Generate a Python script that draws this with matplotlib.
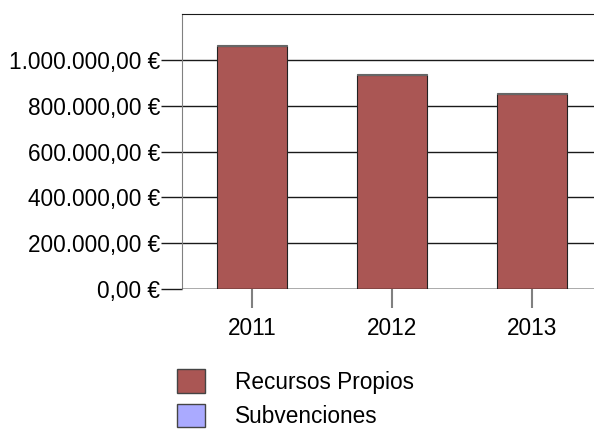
import matplotlib
matplotlib.use("Agg")
import matplotlib.pyplot as plt
from matplotlib.ticker import FuncFormatter
import numpy as np

plt.rcParams['font.family'] = ['Liberation Sans', 'DejaVu Sans']

years = ['2011', '2012', '2013']
recursos_propios = [1060000, 936000, 853000]
subvenciones = [3000, 3000, 3000]
y_ticks = [0, 200000, 400000, 600000, 800000, 1000000]

col_propios = '#AA5654'
col_subv = '#AAAAFF'


def euro(v, pos=None):
    s = f"{v:,.2f}"
    s = s.replace(',', 'X').replace('.', ',').replace('X', '.')
    return s + " €"


fig = plt.figure(figsize=(5.94, 4.29), dpi=100)
W, H = 594, 429
ax = fig.add_axes([182 / W, (H - 289) / H, 420 / W, 275 / H])

x = np.arange(len(years))
ax.bar(x, recursos_propios, width=0.5, color=col_propios, edgecolor='#222222',
       linewidth=0.8, label='Recursos Propios', zorder=3)
ax.bar(x, subvenciones, width=0.5, bottom=recursos_propios, color=col_subv,
       edgecolor='#666666', linewidth=0.8, label='Subvenciones', zorder=3)

ax.set_xlim(-0.5, 2.5)
ax.set_ylim(0, 1200000)
ax.set_yticks(y_ticks)
ax.yaxis.set_major_formatter(FuncFormatter(euro))
ax.set_xticks(x)
ax.set_xticklabels(years)

ax.grid(axis='y', color='#1a1a1a', linewidth=1.0, zorder=0)
for side in ['right', 'bottom']:
    ax.spines[side].set_visible(False)
ax.spines['top'].set_color('#1a1a1a')
ax.spines['left'].set_color('#808080')
ax.axhline(0, color='#111111', linewidth=1.0, zorder=4)

fs = 16.3
ax.tick_params(axis='y', length=15, width=1.0, color='#1a1a1a', pad=0.5,
               labelsize=fs)
ax.tick_params(axis='x', length=14, width=1.5, color='#808080', pad=6,
               labelsize=fs)

handles, labels = ax.get_legend_handles_labels()
leg = fig.legend(handles, labels, loc='upper left',
                 bbox_to_anchor=(177 / W, (H - 369) / H),
                 frameon=False, fontsize=fs, handlelength=1.24,
                 handleheight=1.24, handletextpad=1.33, labelspacing=0.45,
                 borderaxespad=0, borderpad=0)
for h in leg.legend_handles:
    h.set_edgecolor('#444444')
    h.set_linewidth(1.0)

fig.savefig('out.png', dpi=100)
